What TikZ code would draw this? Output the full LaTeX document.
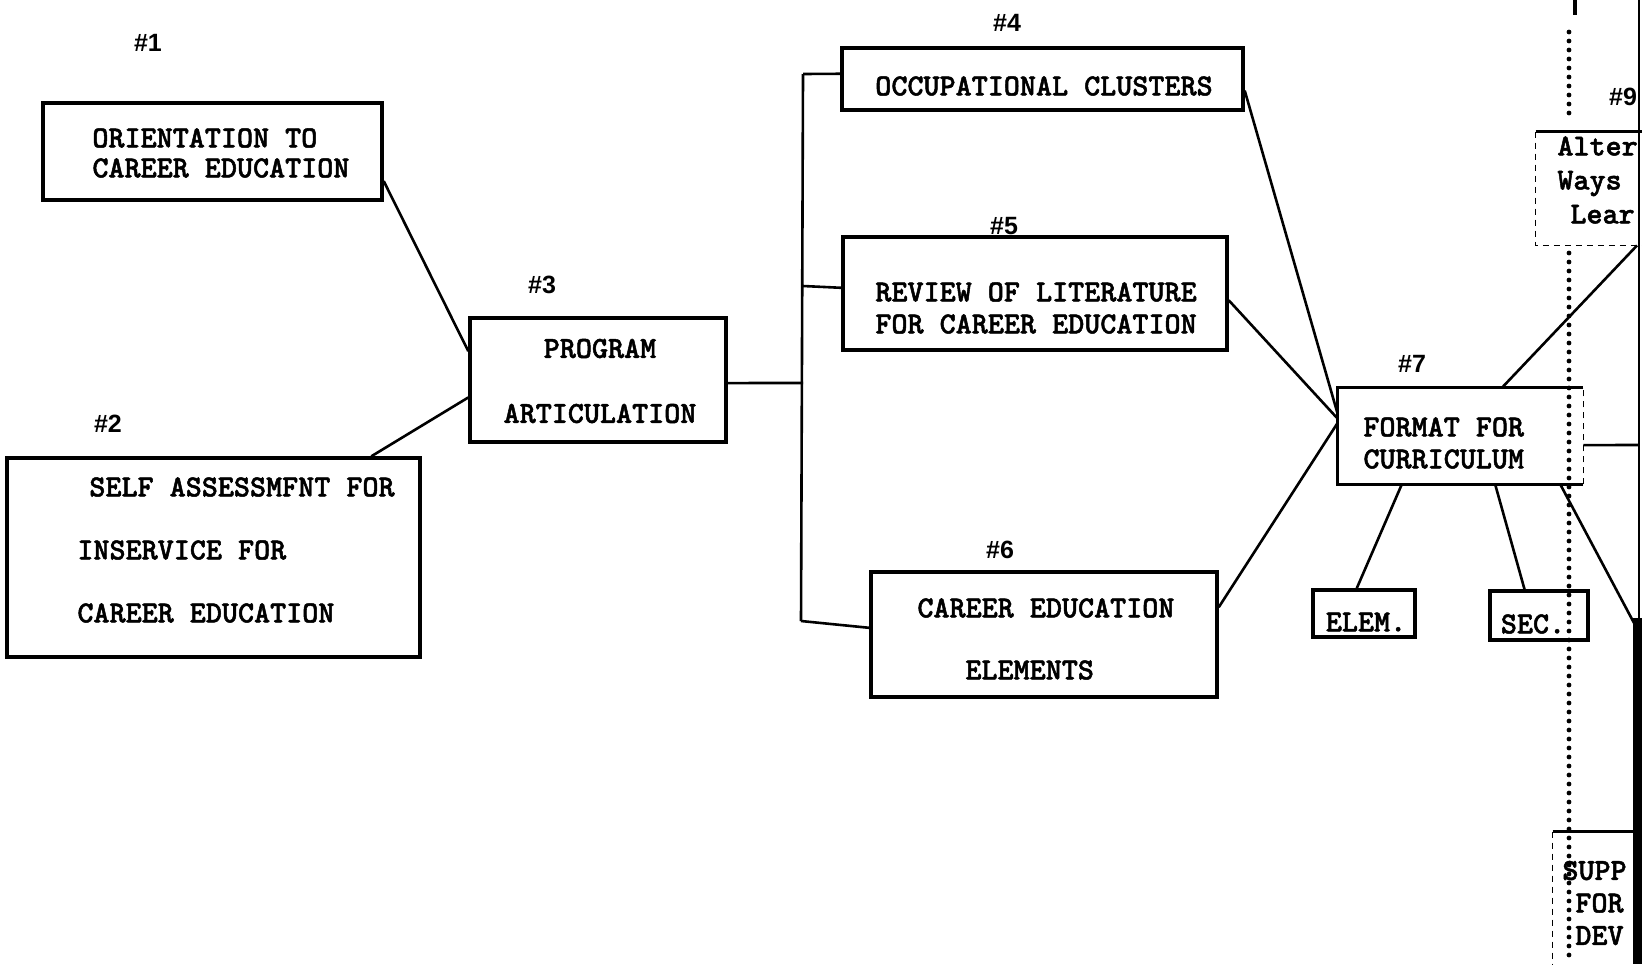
\documentclass[tikz,border=0pt]{standalone}
\usepackage{fontspec}
\setsansfont{Liberation Sans}
\newfontfamily\typed{lmmonolt10-bold.otf}[FakeBold=1.6]
\usetikzlibrary{calc}

\tikzset{
  box/.style={draw, line width=1.7pt, inner sep=0pt, rectangle},
  open/.style={draw=none, inner sep=0pt, rectangle},
  txt/.style={font=\typed\fontsize{15.3}{#1}\selectfont, inner sep=0pt},
  txt/.default=16pt,
  tag/.style={font=\sffamily\bfseries\fontsize{12.5}{14}\selectfont, inner sep=0pt},
  link/.style={line width=1.3pt},
  edge/.style={line width=1.7pt},
  dots/.style={line width=2.4pt, line cap=round, dash pattern=on 0pt off 4.5pt},
  faint/.style={line width=0.7pt, dash pattern=on 3pt off 2.5pt},
}

\begin{document}
\begin{tikzpicture}[x=0.5pt,y=-0.5pt]
\useasboundingbox (0,0) rectangle (1642,964);
\fill[white] (0,0) rectangle (1642,964);

% ---- boxes ----
\node[box, minimum width=169.5pt, minimum height=48.5pt] (n1) at (212.5,151.5) {};
\node[box, minimum width=206.5pt, minimum height=99.5pt] (n2) at (213.5,557.5) {};
\node[box, minimum width=128pt,   minimum height=62pt]   (n3) at (598,380) {};
\node[box, minimum width=200.5pt, minimum height=31pt]   (n4) at (1042.5,79) {};
\node[box, minimum width=192pt,   minimum height=56.5pt] (n5) at (1035,293.5) {};
\node[box, minimum width=173pt,   minimum height=62.5pt] (n6) at (1044,634.5) {};
\node[open, minimum width=122.5pt, minimum height=48pt]  (n7) at (1460.5,436) {};
\node[box, minimum width=51pt,    minimum height=23.5pt] (elem) at (1364,613.5) {};
\node[box, minimum width=49pt,    minimum height=24.5pt] (sec) at (1539,615.5) {};
\node[open, minimum width=53pt,   minimum height=56.5pt] (n9) at (1589,188.5) {};
\node[open, minimum width=44.5pt, minimum height=84pt]   (supp) at (1597.5,916) {};

% box #7: three solid sides, light dashed right side
\draw[edge] (n7.north east) -- (n7.north west) -- (n7.south west) -- (n7.south east);
\draw[faint] (n7.south east) -- (n7.north east);
% box #9: solid top, light dashed left and bottom
\draw[edge] (n9.north west) -- (n9.north east);
\draw[faint] (n9.north west) -- (n9.south west) -- (n9.south east);
% support box: solid top, light dashed left side
\draw[edge] (supp.north west) -- (supp.north east);
\draw[faint] (supp.north west) -- (supp.south west);

% ---- box texts ----
\node[txt=15pt, align=left, anchor=west] (t1) at (92,153) {ORIENTATION TO\\CAREER EDUCATION};
\node[txt=31.5pt, align=left, anchor=west] (t2) at (77,550) {\hspace*{6pt}SELF ASSESSMFNT FOR\\INSERVICE FOR\\CAREER EDUCATION};
\node[txt=32.5pt, align=center] (t3) at (600,381) {PROGRAM\\ARTICULATION};
\node[txt] (t4) at (1044,86) {OCCUPATIONAL CLUSTERS};
\node[txt=16pt, align=left, anchor=west] (t5) at (875,308) {REVIEW OF LITERATURE\\FOR CAREER EDUCATION};
\node[txt=31pt, align=left, anchor=west] (t6) at (917,639) {CAREER EDUCATION\\\hspace*{24pt}ELEMENTS};
\node[txt=16pt, align=left, anchor=west] (t7) at (1363,443) {FORMAT FOR\\CURRICULUM};
\node[txt] (te) at (1366,622) {ELEM.};
\node[txt] (ts) at (1533,624) {SEC.};
\node[txt=17pt, align=left, anchor=west] (t9) at (1557,180) {Alter\\Ways\\\hspace*{6.5pt}Lear};
\node[txt=16.25pt, align=left, anchor=west] (tsupp) at (1562,903) {SUPP\\\hspace*{6.5pt}FOR\\\hspace*{6.5pt}DEV};

% ---- number tags ----
\node[tag] (g1) at (148,43) {\#1};
\node[tag] (g2) at (108,424) {\#2};
\node[tag] (g3) at (542,285) {\#3};
\node[tag] (g4) at (1007,23) {\#4};
\node[tag] (g5) at (1004,226) {\#5};
\node[tag] (g6) at (1000,550) {\#6};
\node[tag] (g7) at (1412,364) {\#7};
\node[tag] (g9) at (1623,97) {\#9};

% ---- connectors on the left ----
\draw[link] ($(n1.north east)!0.794!(n1.south east)$) -- ($(n3.north west)!0.274!(n3.south west)$);
\draw[link] ($(n3.north west)!0.637!(n3.south west)$) -- ($(n2.north west)!0.879!(n2.north east)$);

% ---- bus from #3 to #4, #5, #6 ----
\coordinate (b0) at (803,383);
\coordinate (b4) at (803,74);
\coordinate (b5) at (803,286);
\coordinate (b6) at (801,621);
\draw[link] ($(n3.north east)!0.524!(n3.south east)$) -- (b0);
\draw[link] (b4) -- (b6);
\draw[link] (b4) -- ($(n4.north west)!0.42!(n4.south west)$);
\draw[link] (b5) -- ($(n5.north west)!0.451!(n5.south west)$);
\draw[link] (b6) -- ($(n6.north west)!0.448!(n6.south west)$);

% ---- #4, #5, #6 into #7 ----
\draw[link] ($(n4.north east)!0.677!(n4.south east)$) -- ($(n7.north west)!0.27!(n7.south west)$);
\draw[link] ($(n5.north east)!0.558!(n5.south east)$) -- ($(n7.north west)!0.32!(n7.south west)$);
\draw[link] ($(n6.north east)!0.288!(n6.south east)$) -- ($(n7.north west)!0.365!(n7.south west)$);

% ---- out of #7 ----
\draw[link] ($(n7.south west)!0.261!(n7.south east)$) -- ($(elem.north west)!0.431!(elem.north east)$);
\draw[link] ($(n7.south west)!0.641!(n7.south east)$) -- ($(sec.north west)!0.357!(sec.north east)$);
\draw[link] ($(n7.north west)!0.669!(n7.north east)$) -- ($(n9.south west)!0.95!(n9.south east)$);
\coordinate (e7) at (1638,445);
\coordinate (e8) at (1634,623);
\draw[link] ($(n7.north east)!0.594!(n7.south east)$) -- (e7);
\draw[link] ($(n7.south west)!0.906!(n7.south east)$) -- (e8);

% ---- dotted division line and top stub ----
\draw[dots] (1569,32) -- (1569,122);
\draw[dots] (1569,253) -- (1569,964);
\draw[line width=1.7pt] (1575,0) -- (1575,15);

% ---- dark right margin ----
\draw[line width=1.2pt] (1639,0) -- (1639,620);
\fill (1633,618) rectangle (1642,964);
\end{tikzpicture}
\end{document}
